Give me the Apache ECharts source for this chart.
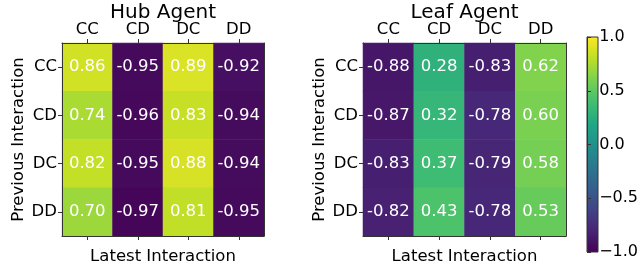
<!DOCTYPE html>
<html><head><meta charset="utf-8">
<script src="https://cdn.jsdelivr.net/npm/echarts@6/dist/echarts.min.js"></script>
<style>html,body{margin:0;padding:0;background:#fff}#c{width:641px;height:270px}</style>
</head><body><div id="c"></div>
<script>
const categories = ['CC', 'CD', 'DC', 'DD'];
const titles = ['Hub Agent', 'Leaf Agent'];
// rows = previous interaction, columns = latest interaction
const hubValues = [
  [0.86, -0.95, 0.89, -0.92],
  [0.74, -0.96, 0.83, -0.94],
  [0.82, -0.95, 0.88, -0.94],
  [0.70, -0.97, 0.81, -0.95]
];
const leafValues = [
  [-0.88, 0.28, -0.83, 0.62],
  [-0.87, 0.32, -0.78, 0.60],
  [-0.83, 0.37, -0.79, 0.58],
  [-0.82, 0.43, -0.78, 0.53]
];
const colorbarTicks = [-1.0, -0.5, 0.0, 0.5, 1.0];
const viridis = ['#440154','#482475','#414487','#355f8d','#2a788e','#21918c','#22a884','#44bf70','#7ad151','#bddf26','#fde725'];

const FONT = 'DejaVu Sans';
function toData(m) {
  const d = [];
  m.forEach((row, r) => row.forEach((v, c) => d.push([c, r, v])));
  return d;
}
const grids = [
  {left: 62, top: 43, width: 202, height: 202},
  {left: 363, top: 43, width: 203, height: 202},
  {left: 587, top: 37, width: 11, height: 215}
];
const lineStyle = {color: '#333', width: 1};
const xAxes = [], yAxes = [], series = [], titleArr = [];
[hubValues, leafValues].forEach((vals, i) => {
  xAxes.push({gridIndex: i, type: 'category', data: categories, position: 'top', z: 10,
    axisLine: {show: true, lineStyle}, axisTick: {show: true, length: 4, alignWithLabel: true, lineStyle},
    axisLabel: {fontFamily: FONT, fontSize: 16.5, color: '#000', margin: 5}, splitLine: {show: false}});
  xAxes.push({gridIndex: i, type: 'category', data: categories, position: 'bottom', z: 10,
    axisLine: {show: true, lineStyle}, axisTick: {show: true, length: 4, alignWithLabel: true, lineStyle},
    axisLabel: {show: false},
    name: 'Latest Interaction', nameLocation: 'middle', nameGap: 12,
    nameTextStyle: {fontFamily: FONT, fontSize: 16.5, color: '#000'}});
  yAxes.push({gridIndex: i, type: 'category', data: categories, inverse: true, position: 'left', z: 10,
    axisLine: {show: true, lineStyle}, axisTick: {show: true, length: 4, alignWithLabel: true, lineStyle},
    axisLabel: {fontFamily: FONT, fontSize: 16.5, color: '#000', margin: 5},
    name: 'Previous Interaction', nameLocation: 'middle', nameGap: 32, nameRotate: 90,
    nameTextStyle: {fontFamily: FONT, fontSize: 16.5, color: '#000'}});
  yAxes.push({gridIndex: i, type: 'category', data: categories, inverse: true, position: 'right', z: 10,
    axisLine: {show: true, lineStyle}, axisTick: {show: false}, axisLabel: {show: false}});
  series.push({type: 'heatmap', xAxisIndex: 2 * i, yAxisIndex: 2 * i, data: toData(vals),
    label: {show: true, color: '#fff', fontFamily: FONT, fontSize: 16.5,
      formatter: p => p.value[2].toFixed(2)},
    itemStyle: {borderWidth: 0}, emphasis: {disabled: true}});
  titleArr.push({text: titles[i], left: grids[i].left + grids[i].width / 2, top: 3, textAlign: 'center',
    textStyle: {fontFamily: FONT, fontSize: 20, fontWeight: 'normal', color: '#000'}, padding: 0});
});
// colorbar axes
xAxes.push({gridIndex: 2, type: 'value', show: false});
yAxes.push({gridIndex: 2, type: 'value', min: colorbarTicks[0], max: colorbarTicks[colorbarTicks.length - 1],
  interval: 0.5, position: 'right', z: 10,
  axisLine: {show: true, lineStyle}, axisTick: {show: true, length: 4, lineStyle},
  splitLine: {show: false},
  axisLabel: {fontFamily: FONT, fontSize: 16, color: '#000', margin: 5,
    formatter: v => (v < 0 ? '\u2212' : '') + Math.abs(v).toFixed(1)}});

const chart = echarts.init(document.getElementById('c'), null, {renderer: 'canvas'});
chart.setOption({
  animation: false,
  title: titleArr,
  grid: grids,
  xAxis: xAxes,
  yAxis: yAxes,
  visualMap: {show: false, type: 'continuous', min: -1, max: 1, seriesIndex: [0, 1],
    inRange: {color: viridis}},
  series: series,
  graphic: [{type: 'rect', z: 1,
    shape: {x: grids[2].left, y: grids[2].top, width: grids[2].width, height: grids[2].height},
    style: {fill: new echarts.graphic.LinearGradient(0, 1, 0, 0,
      viridis.map((c, k) => ({offset: k / (viridis.length - 1), color: c}))),
      stroke: '#333', lineWidth: 1}}]
});
</script></body></html>
